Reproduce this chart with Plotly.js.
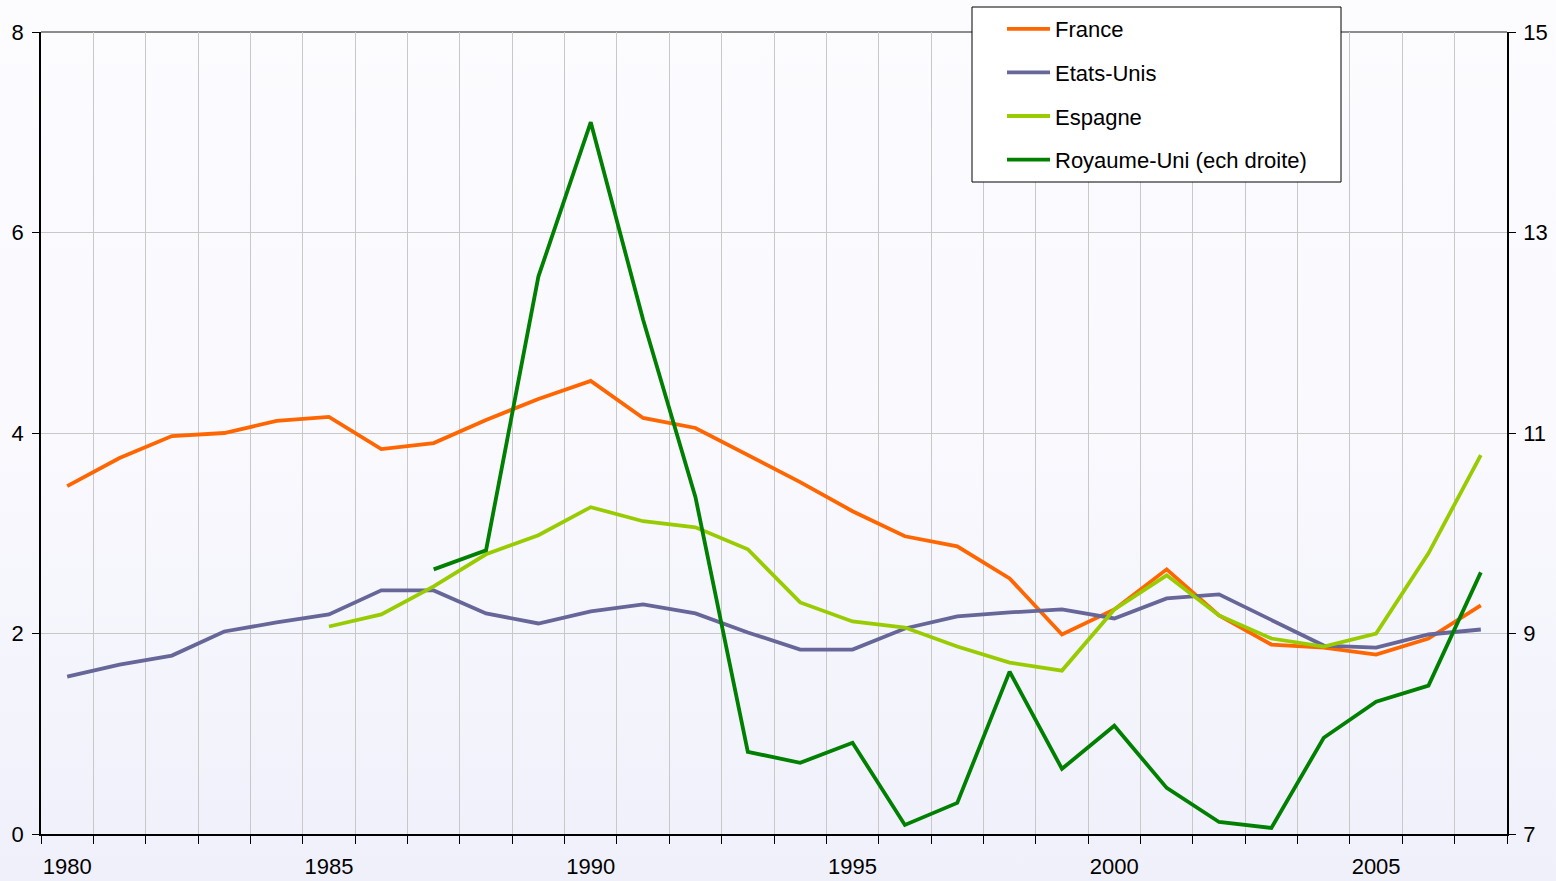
<!DOCTYPE html>
<html>
<head>
<meta charset="utf-8">
<script src="https://cdn.plot.ly/plotly-3.0.1.min.js"></script>
<style>
  html, body { margin: 0; padding: 0; }
  body { width: 1556px; height: 881px; background: linear-gradient(to bottom, #fcfcff 0%, #f9f9fe 50%, #f0f0fb 100%); }
  #chart { width: 1556px; height: 881px; }
</style>
</head>
<body>
<div id="chart"></div>
<script>
const years = [1980,1981,1982,1983,1984,1985,1986,1987,1988,1989,1990,1991,1992,1993,1994,1995,1996,1997,1998,1999,2000,2001,2002,2003,2004,2005,2006,2007];
const tickYears = [1980,1985,1990,1995,2000,2005];
const france = [3.47,3.75,3.97,4.00,4.12,4.16,3.84,3.90,4.13,4.34,4.52,4.15,4.05,3.78,3.51,3.22,2.97,2.87,2.55,1.99,2.24,2.64,2.18,1.89,1.86,1.79,1.95,2.28];
const etatsUnis = [1.57,1.69,1.78,2.02,2.11,2.19,2.43,2.43,2.20,2.10,2.22,2.29,2.20,2.01,1.84,1.84,2.05,2.17,2.21,2.24,2.15,2.35,2.39,2.14,1.88,1.86,1.99,2.04];
const espagne = [null,null,null,null,null,2.07,2.19,2.47,2.79,2.98,3.26,3.12,3.06,2.84,2.31,2.12,2.06,1.87,1.71,1.63,2.24,2.58,2.18,1.95,1.87,2.00,2.80,3.78];
const royaumeUni = [null,null,null,null,null,null,null,9.64,9.83,12.56,14.10,12.13,10.36,7.82,7.71,7.91,7.09,7.31,8.62,7.65,8.08,7.46,7.12,7.06,7.96,8.32,8.48,9.61];
const seriesNames = ["France","Etats-Unis","Espagne","Royaume-Uni (ech droite)"];

const font = {family: "'Liberation Sans', Arial, sans-serif", size: 22, color: "#000"};
const lw = 3.8;

const traces = [
  {x: years, y: france, name: seriesNames[0], line: {color: "#ff6600", width: lw}, legendgroup: "a"},
  {x: years, y: etatsUnis, name: seriesNames[1], line: {color: "#666699", width: lw}, legendgroup: "b"},
  {x: years, y: espagne, name: seriesNames[2], line: {color: "#99cc00", width: lw}, legendgroup: "c"},
  {x: years, y: royaumeUni, name: seriesNames[3], line: {color: "#008000", width: lw}, yaxis: "y2", legendgroup: "d"}
].map(t => Object.assign({type: "scatter", mode: "lines", hoverinfo: "x+y+name"}, t));

// plot area: x 41..1507, y 32..834
const L = 41, R = 1507, T = 32, B = 834;
const px = v => (v - L) / (R - L);
const py = v => (B - v) / (B - T);

const layout = {
  width: 1556, height: 881,
  paper_bgcolor: "rgba(0,0,0,0)",
  plot_bgcolor: "rgba(0,0,0,0)",
  font: font,
  margin: {l: L, r: 1556 - R, t: T, b: 881 - B, pad: 0, autoexpand: false},
  showlegend: true,
  legend: {
    x: px(1002), xanchor: "left", y: py(8), yanchor: "top",
    bgcolor: "rgba(0,0,0,0)", borderwidth: 0,
    font: font, traceorder: "grouped", tracegroupgap: 12,
    itemwidth: 43
  },
  xaxis: {
    type: "linear", range: [1979.5, 2007.5],
    tickvals: tickYears, ticktext: tickYears.map(String),
    ticks: "", showgrid: false, zeroline: false,
    showline: true, linecolor: "#000", linewidth: 1.5,
    ticklabelstandoff: 12,
    minor: {tick0: 1979.5, dtick: 1, ticks: "outside", ticklen: 8, tickcolor: "#000", tickwidth: 1,
            showgrid: true, gridcolor: "#c8c8c8", gridwidth: 1}
  },
  yaxis: {
    range: [0, 8], dtick: 2, tick0: 0,
    ticks: "outside", ticklen: 7, tickcolor: "#000",
    showline: true, linecolor: "#000", linewidth: 1.5,
    showgrid: true, gridcolor: "#c8c8c8", gridwidth: 1, zeroline: false,
    ticklabelstandoff: 4
  },
  yaxis2: {
    range: [7, 15], dtick: 2, tick0: 7,
    overlaying: "y", side: "right", anchor: "x",
    ticks: "outside", ticklen: 7, tickcolor: "#000",
    showline: true, linecolor: "#000", linewidth: 1.5,
    showgrid: false, zeroline: false,
    ticklabelstandoff: 3
  },
  shapes: [
    {type: "line", xref: "paper", yref: "paper", x0: 0, x1: 1, y0: 1, y1: 1,
     line: {color: "#8c8c8c", width: 2}, layer: "below"},
    {type: "rect", xref: "paper", yref: "paper", x0: px(972), x1: px(1341), y0: py(7), y1: py(182),
     fillcolor: "#ffffff", line: {color: "#000", width: 1}, layer: "above"}
  ]
};

Plotly.newPlot("chart", traces, layout, {displayModeBar: false, responsive: false});
</script>
</body>
</html>
